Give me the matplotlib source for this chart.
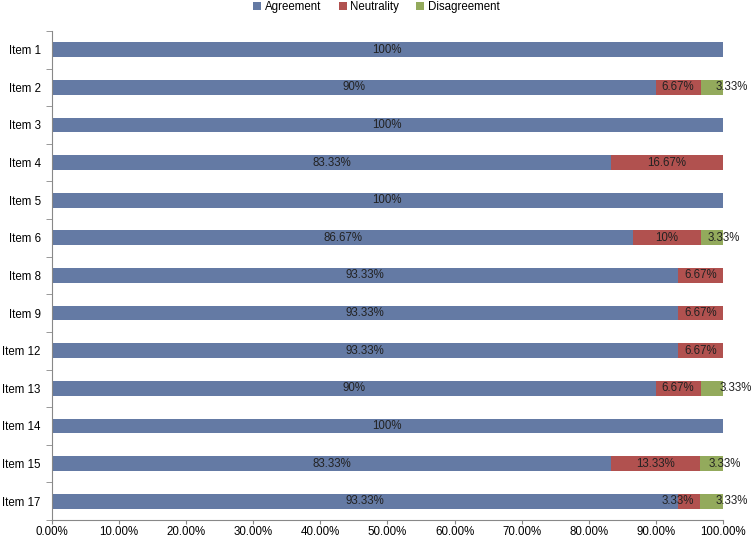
import numpy as np
import matplotlib.pyplot as plt
from matplotlib.ticker import FixedLocator

items = ['Item 1', 'Item 2', 'Item 3', 'Item 4', 'Item 5', 'Item 6', 'Item 8',
         'Item 9', 'Item 12', 'Item 13', 'Item 14', 'Item 15', 'Item 17']
agreement = [100, 90, 100, 83.33, 100, 86.67, 93.33, 93.33, 93.33, 90, 100, 83.33, 93.33]
neutrality = [0, 6.67, 0, 16.67, 0, 10, 6.67, 6.67, 6.67, 6.67, 0, 13.33, 3.33]
disagreement = [0, 3.33, 0, 0, 0, 3.33, 0, 0, 0, 3.33, 0, 3.33, 3.33]

series = [('Agreement', agreement, '#647AA4'),
          ('Neutrality', neutrality, '#B1514F'),
          ('Disagreement', disagreement, '#93AA5C')]

# label nudges (points) for the thin segments, as placed in the original
nudge = {('Neutrality', 'Item 17'): -8,
         ('Disagreement', 'Item 2'): 14.5,
         ('Disagreement', 'Item 6'): 8.6,
         ('Disagreement', 'Item 13'): 17.3,
         ('Disagreement', 'Item 15'): 9.4,
         ('Disagreement', 'Item 17'): 14.5}

plt.rcParams['font.family'] = ['Liberation Sans', 'DejaVu Sans']
fs = 8.3

fig = plt.figure(figsize=(7.53, 5.42), dpi=100)
ax = fig.add_axes([0.069, 0.0406, 0.891, 0.9024])

y = np.arange(len(items))
left = np.zeros(len(items))
for name, vals, col in series:
    vals = np.array(vals, dtype=float)
    ax.barh(y, vals, left=left, height=0.39, color=col, label=name)
    for it, yi, l, v in zip(items, y, left, vals):
        if v > 0:
            txt = ('%.2f' % v).rstrip('0').rstrip('.') + '%'
            dx = nudge.get((name, it), 0)
            ax.annotate(txt, (l + v / 2, yi), xytext=(dx, 0), textcoords='offset points',
                        ha='center', va='center', fontsize=fs, color='#222222')
    left += vals

ax.set_ylim(len(items) - 0.5, -0.5)
ax.set_xlim(0, 100)
ax.set_yticks(y)
ax.set_yticklabels(items, fontsize=fs)
ax.yaxis.set_minor_locator(FixedLocator(np.arange(-0.5, len(items), 1)))
ax.tick_params(axis='y', which='major', length=0, pad=8)
ax.tick_params(axis='y', which='minor', length=4, color='#888888')
ax.set_xticks(np.arange(0, 101, 10))
ax.set_xticklabels(['%.2f%%' % v for v in np.arange(0, 101, 10)], fontsize=fs)
ax.tick_params(axis='x', length=3, color='#888888', pad=1.5)

for s in ['top', 'right']:
    ax.spines[s].set_visible(False)
for s in ['left', 'bottom']:
    ax.spines[s].set_color('#888888')

fig.legend(loc='upper center', bbox_to_anchor=(0.5, 1.018), ncol=3, frameon=False,
           handlelength=0.7, handleheight=0.7, handletextpad=0.3, columnspacing=1.5,
           fontsize=fs)

fig.savefig('out.png', dpi=100)
